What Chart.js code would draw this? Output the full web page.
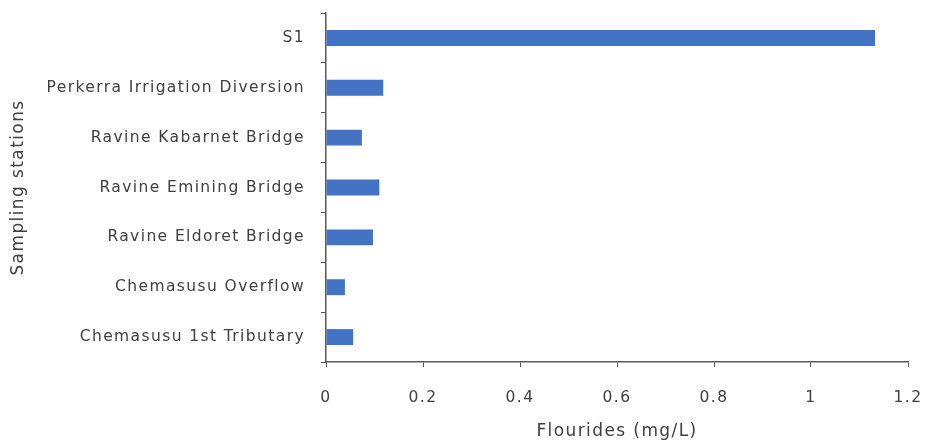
<!DOCTYPE html>
<html>
<head>
<meta charset="utf-8">
<script src="https://cdn.jsdelivr.net/npm/chart.js@4/dist/chart.umd.min.js"></script>
<style>
html,body{margin:0;padding:0;background:#fff;}
#wrap{width:926px;height:446px;position:relative;}
</style>
</head>
<body>
<div id="wrap"><canvas id="c" width="926" height="446"></canvas></div>
<script>
const stations = ["S1","Perkerra Irrigation Diversion","Ravine Kabarnet Bridge","Ravine Emining Bridge","Ravine Eldoret Bridge","Chemasusu Overflow","Chemasusu 1st Tributary"];
const fluorides = [1.132,0.118,0.074,0.110,0.097,0.039,0.056];
const xTitle = "Flourides (mg/L)";
const yTitle = "Sampling stations";

const fam = "'DejaVu Sans', sans-serif";
const font = {family:fam, size:15.5};
const spacing = {
  id:'spacing',
  beforeInit(c){c.ctx.letterSpacing='1.4px';},
  beforeUpdate(c){c.ctx.letterSpacing='1.4px';},
  beforeDraw(c){c.ctx.letterSpacing='1.4px';}
};
new Chart(document.getElementById('c'), {
  type:'bar',
  plugins:[spacing],
  data:{labels:stations, datasets:[{data:fluorides, backgroundColor:'#4472C4', borderWidth:0, categoryPercentage:1, barPercentage:0.32}]},
  options:{
    indexAxis:'y', responsive:false, animation:false,
    layout:{padding:{left:6,right:18,top:13,bottom:4}},
    plugins:{legend:{display:false}, tooltip:{enabled:false}},
    scales:{
      x:{min:0,max:1.2,
        afterFit:s=>{s.height=80;s.paddingRight=0;s.paddingLeft=0;},
        ticks:{stepSize:0.2,color:'#404040',font:font,padding:22,callback:v=>Math.round(v*10)/10},
        grid:{drawOnChartArea:false,drawTicks:true,tickLength:5,color:'#595959',lineWidth:1},
        border:{color:'#595959',width:1.5},
        title:{display:true,text:xTitle,color:'#404040',font:{family:fam,size:17},padding:{top:0,bottom:0}}
      },
      y:{
        afterFit:s=>{s.width=320;s.paddingTop=0;s.paddingBottom=0;},
        ticks:{color:'#404040',font:font,padding:16},
        grid:{drawOnChartArea:false,drawTicks:true,tickLength:5,color:'#595959',offset:true},
        border:{color:'#595959',width:1.5},
        title:{display:true,text:yTitle,color:'#404040',font:{family:fam,size:17},padding:{top:2,bottom:6}}
      }
    }
  }
});
</script>
</body>
</html>
